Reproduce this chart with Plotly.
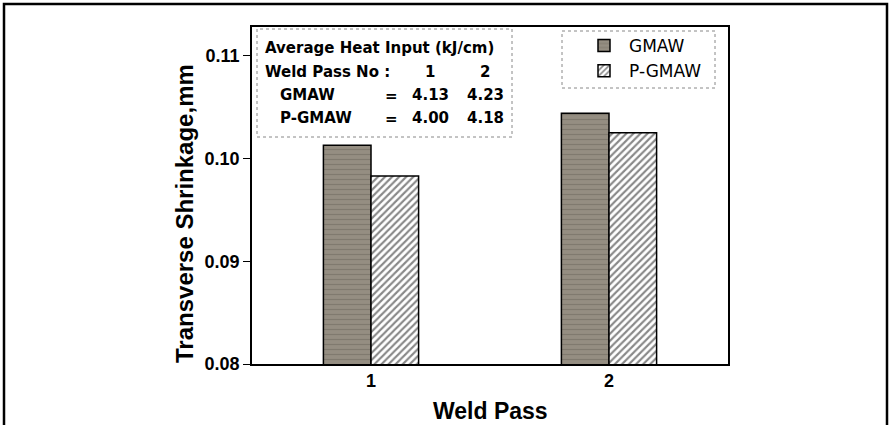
import plotly.graph_objects as go

passes = ["1", "2"]
gmaw = [0.1013, 0.1044]
pgmaw = [0.0983, 0.1025]
y_ticks = [0.08, 0.09, 0.10, 0.11]
y_tick_labels = ["0.08", "0.09", "0.10", "0.11"]
heat_gmaw = ["4.13", "4.23"]
heat_pgmaw = ["4.00", "4.18"]

FONT = "DejaVu Sans, Liberation Sans, sans-serif"
ARIAL = "Liberation Sans, Arial, sans-serif"

fig = go.Figure()
fig.add_trace(go.Bar(
    x=passes, y=gmaw, name="GMAW",
    marker=dict(color="#8b8377", line=dict(color="black", width=1.5),
                pattern=dict(shape="-", fgcolor="#6c655b", bgcolor="#958e82", size=5, solidity=0.25)),
))
fig.add_trace(go.Bar(
    x=passes, y=pgmaw, name="P-GMAW",
    marker=dict(color="white", line=dict(color="black", width=1.5),
                pattern=dict(shape="/", fgcolor="#111", bgcolor="white", size=5, solidity=0.42)),
))

L, R, T, B = 252, 162, 27, 61
W, H = 890 - L - R, 425 - T - B

def px(x):
    return (x - L) / W

def py(y):
    return (425 - B - y) / H

fig.update_layout(
    width=890, height=425,
    margin=dict(l=L, r=R, t=T, b=B),
    paper_bgcolor="white", plot_bgcolor="white",
    barmode="group", bargap=0.6, bargroupgap=0,
    font=dict(family=FONT, color="black", size=15),
    showlegend=True,
    legend=dict(x=px(579), y=py(28), xanchor="left", yanchor="top",
                bgcolor="rgba(0,0,0,0)", borderwidth=0,
                font=dict(size=17, family=FONT), itemwidth=40),
    xaxis=dict(type="category", range=[-0.5, 1.5], showline=True, linecolor="black", linewidth=1.5,
               mirror=True, ticks="",
               tickvals=passes, ticktext=["<b>%s</b>" % p for p in passes],
               tickfont=dict(size=18, family=ARIAL)),
    yaxis=dict(range=[0.08, 0.1128], showline=True, linecolor="black", linewidth=1.5,
               mirror=True, ticks="outside", ticklen=7, tickcolor="black",
               tickvals=y_ticks, ticktext=["<b>%s</b>" % t for t in y_tick_labels],
               tickfont=dict(size=18, family=ARIAL), showgrid=False, zeroline=False),
)

shapes = []
# outer frame
shapes.append(dict(type="rect", xref="paper", yref="paper", x0=px(4), x1=px(887), y0=py(440), y1=py(4),
                   line=dict(color="black", width=2.5), fillcolor="rgba(0,0,0,0)", layer="above"))
# inset table box
shapes.append(dict(type="rect", xref="paper", yref="paper", x0=px(257), x1=px(512), y0=py(137), y1=py(29),
                   line=dict(color="#888", width=1, dash="dot"), fillcolor="white", layer="above"))
# legend box
shapes.append(dict(type="rect", xref="paper", yref="paper", x0=px(562), x1=px(715), y0=py(88), y1=py(31),
                   line=dict(color="#888", width=1, dash="dot"), fillcolor="rgba(0,0,0,0)", layer="above"))
fig.update_layout(shapes=shapes)

ann = []
def txt(x, y, s, anchor="left"):
    ann.append(dict(xref="paper", yref="paper", x=px(x), y=py(y), text="<b>%s</b>" % s, showarrow=False,
                    xanchor=anchor, yanchor="middle", font=dict(size=15, family=FONT)))

txt(263, 48, "Average Heat Input (kJ/cm)")
txt(263, 72, "Weld Pass No :")
txt(430, 72, passes[0], "center")
txt(485, 72, passes[1], "center")
txt(278, 95, "GMAW")
txt(391, 96, "=", "center")
txt(430, 95, heat_gmaw[0], "center")
txt(485, 95, heat_gmaw[1], "center")
txt(278, 118, "P-GMAW")
txt(391, 119, "=", "center")
txt(430, 118, heat_pgmaw[0], "center")
txt(485, 118, heat_pgmaw[1], "center")

# axis titles
ann.append(dict(xref="paper", yref="paper", x=px(490), y=py(411), text="<b>Weld Pass</b>", showarrow=False,
                xanchor="center", yanchor="middle", font=dict(size=23, family=ARIAL)))
ann.append(dict(xref="paper", yref="paper", x=px(185), y=py(214), text="<b>Transverse Shrinkage,mm</b>",
                showarrow=False, textangle=-90, xanchor="center", yanchor="middle",
                font=dict(size=24, family=ARIAL)))
fig.update_layout(annotations=ann)

fig.write_html("out.html", config={"displayModeBar": False},
               post_script="document.body.style.margin='0';document.body.style.overflow='hidden';")
